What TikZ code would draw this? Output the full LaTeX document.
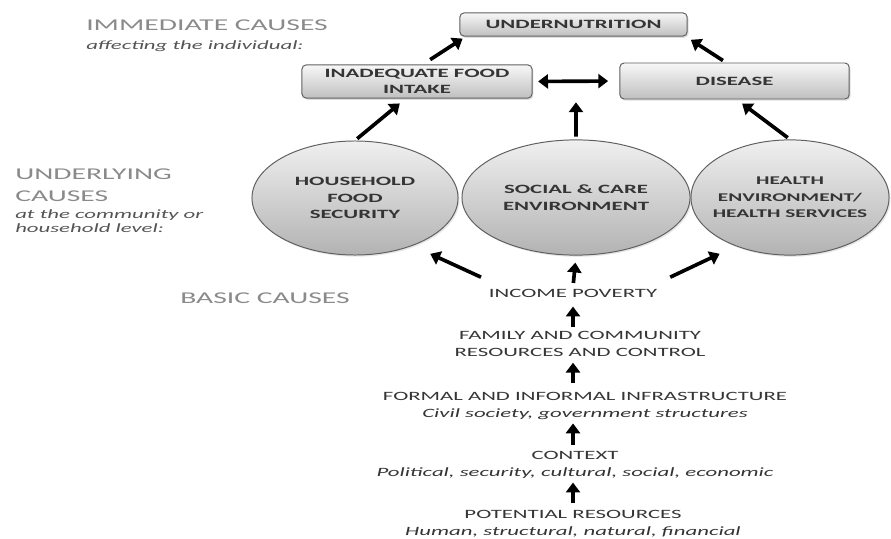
\documentclass[tikz,border=0pt]{standalone}
\usepackage{fontspec}
\setmainfont{Carlito}[FakeStretch=1.8]
\usepackage{tikz}
\usetikzlibrary{arrows.meta,positioning,shapes.geometric,calc,shadows}
\definecolor{headgray}{HTML}{8A8A8A}
\definecolor{subgray}{HTML}{555555}
\definecolor{textdark}{HTML}{353535}
\definecolor{edgegray}{HTML}{606060}
\tikzset{
  causebox/.style={
    draw=edgegray, rounded corners=3pt, line width=0.7pt,
    top color=gray!6, bottom color=gray!50,
    font=\fontsize{9}{11.5}\selectfont\bfseries, text=textdark,
    align=center, inner sep=0pt,
    drop shadow={opacity=0.25, shadow xshift=1pt, shadow yshift=-1.2pt},
  },
  causeoval/.style={
    ellipse, draw=edgegray, line width=0.7pt,
    top color=gray!12, bottom color=gray!60,
    font=\fontsize{9}{11.7}\selectfont\bfseries, text=textdark,
    align=center, inner ysep=0pt, inner xsep=-1cm,
    drop shadow={opacity=0.2, shadow xshift=1pt, shadow yshift=-1.2pt},
  },
  heading/.style={font=\fontsize{11.7}{15.6}\selectfont, text=headgray, align=left, inner sep=0pt},
  subhead/.style={font=\fontsize{9}{10}\selectfont\itshape, text=subgray, align=left, inner sep=0pt},
  basic/.style={font=\fontsize{9}{12}\selectfont, text=textdark, align=center, inner sep=1pt},
  arrow/.style={-{Triangle[length=7pt,width=10pt]}, line width=2.6pt, color=black},
  duoarrow/.style={{Triangle[length=7pt,width=10pt]}-{Triangle[length=7pt,width=10pt]}, line width=2.6pt, color=black},
}

\begin{document}
\begin{tikzpicture}[x=0.025cm, y=-0.025cm]

  \useasboundingbox (0,0) rectangle (891,538);

  % immediate causes
  \node[causebox, minimum width=5.68cm, minimum height=0.58cm] (und) at (573.5,24.5) {UNDERNUTRITION};
  \node[causebox, minimum width=5.75cm, minimum height=0.83cm] (ifi) at (417,81.5) {INADEQUATE FOOD\\INTAKE};
  \node[causebox, minimum width=5.73cm, minimum height=0.9cm] (dis) at (734.5,81) {DISEASE};

  % underlying causes
  \node[causeoval, minimum width=5.15cm, minimum height=2.85cm] (hfs) at (355,198) {HOUSEHOLD\\FOOD\\SECURITY};
  \node[causeoval, minimum width=5.7cm, minimum height=2.88cm] (sce) at (576,197.5) {SOCIAL \& CARE\\ENVIRONMENT};
  \node[causeoval, minimum width=4.95cm, minimum height=2.88cm,
        font=\fontsize{8.4}{11.7}\selectfont\bfseries] (hes) at (790,197.5) {HEALTH\\ENVIRONMENT/\\HEALTH SERVICES};

  % basic causes
  \node[basic] (inc) at (573,293) {INCOME POVERTY};
  \node[basic] (fam) at (580,343.5) {FAMILY AND COMMUNITY\\RESOURCES AND CONTROL};
  \node[basic] (inf) at (585,406) {FORMAL AND INFORMAL INFRASTRUCTURE\\\textit{Civil society, government structures}};
  \node[basic] (ctx) at (575,464.5) {CONTEXT\\\textit{Political, security, cultural, social, economic}};
  \node[basic] (pot) at (573,524) {POTENTIAL RESOURCES\\\textit{Human, structural, natural, financial}};

  % level headings
  \node[heading, anchor=base west] (immhead) at (86,31) {IMMEDIATE CAUSES};
  \node[subhead, anchor=base west] (immsub) at (86,50) {affecting the individual:};
  \node[heading, anchor=west] (undhead) at (15,185) {UNDERLYING\\CAUSES};
  \node[subhead, anchor=west] (undsub) at (15,221) {at the community or\\household level:};
  \node[heading, anchor=base west] (bashead) at (180,303) {BASIC CAUSES};

  \coordinate (mid) at ($(ifi.east)!0.5!(dis.west)$);

  \draw[arrow] ([shift={(0.33cm,0.12cm)}]ifi.north) -- ([shift={(0.08cm,-0.05cm)}]und.south west);
  \draw[arrow] ([shift={(-0.29cm,0.05cm)}]dis.north) -- ([shift={(0.08cm,-0.08cm)}]und.south east);
  \draw[duoarrow, shorten <=4pt, shorten >=8pt] (ifi.east) -- (dis.west);

  \draw[arrow, shorten <=2pt] (hfs.north) -- ([shift={(-0.43cm,-0.12cm)}]ifi.south);
  \draw[arrow, shorten <=2pt, shorten >=15pt] (sce.north) -- (mid);
  \draw[arrow, shorten <=2pt] (hes.north) -- ([shift={(0.19cm,-0.1cm)}]dis.south);

  \draw[arrow] ([shift={(-2.3cm,0.25cm)}]inc.north) -- ([shift={(0.05cm,-0.38cm)}]hfs.south east);
  \draw[arrow, shorten <=3pt, shorten >=5pt] (inc.north) -- (sce.south);
  \draw[arrow] ([shift={(2.43cm,0.25cm)}]inc.north) -- ([yshift=-0.38cm]hes.south west);

  \draw[arrow, shorten <=1.5pt, shorten >=5.5pt] (fam.north -| inc) -- (inc.south);
  \draw[arrow, shorten <=5.5pt, shorten >=3.5pt] (inf.north -| inc) -- (fam.south -| inc);
  \draw[arrow, shorten <=3pt, shorten >=1.5pt] (ctx.north -| inc) -- (inf.south -| inc);
  \draw[arrow, shorten <=4pt, shorten >=2pt] (pot.north -| inc) -- (ctx.south -| inc);

\end{tikzpicture}
\end{document}
